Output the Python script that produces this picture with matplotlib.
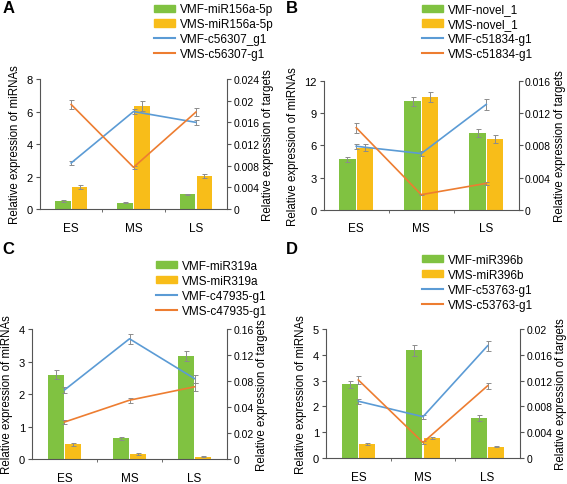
import numpy as np
import matplotlib
matplotlib.use('Agg')
import matplotlib.pyplot as plt
from matplotlib.patches import Patch
from matplotlib.lines import Line2D

plt.rcParams['font.family'] = ['Liberation Sans', 'DejaVu Sans']

stages = ['ES', 'MS', 'LS']

# panel A
a_names = ['VMF-miR156a-5p', 'VMS-miR156a-5p', 'VMF-c56307_g1', 'VMS-c56307-g1']
a_vmf_mir = [0.5, 0.4, 0.9]
a_vmf_mir_err = [0.04, 0.03, 0.05]
a_vms_mir = [1.35, 6.35, 2.05]
a_vms_mir_err = [0.1, 0.3, 0.12]
a_vmf_tgt = [0.0085, 0.018, 0.016]
a_vmf_tgt_err = [0.0003, 0.0005, 0.0005]
a_vms_tgt = [0.0193, 0.0077, 0.0179]
a_vms_tgt_err = [0.0009, 0.0003, 0.0008]
a_left_ticks = [0, 2, 4, 6, 8]
a_right_labels = ['0', '0.004', '0.008', '0.012', '0.016', '0.02', '0.024']

# panel B
b_names = ['VMF-novel_1', 'VMS-novel_1', 'VMF-c51834-g1', 'VMS-c51834-g1']
b_vmf_mir = [4.7, 10.1, 7.15]
b_vmf_mir_err = [0.25, 0.45, 0.35]
b_vms_mir = [5.8, 10.5, 6.6]
b_vms_mir_err = [0.3, 0.5, 0.35]
b_vmf_tgt = [0.0079, 0.0070, 0.0131]
b_vmf_tgt_err = [0.0003, 0.0003, 0.0007]
b_vms_tgt = [0.0102, 0.0019, 0.0033]
b_vms_tgt_err = [0.0006, 0.0001, 0.0002]
b_left_ticks = [0, 3, 6, 9, 12]
b_right_labels = ['0', '0.004', '0.008', '0.012', '0.016']

# panel C
c_names = ['VMF-miR319a', 'VMS-miR319a', 'VMF-c47935-g1', 'VMS-c47935-g1']
c_vmf_mir = [2.6, 0.64, 3.17]
c_vmf_mir_err = [0.13, 0.04, 0.15]
c_vms_mir = [0.45, 0.15, 0.07]
c_vms_mir_err = [0.04, 0.02, 0.01]
c_vmf_tgt = [0.085, 0.148, 0.099]
c_vmf_tgt_err = [0.004, 0.006, 0.005]
c_vms_tgt = [0.0455, 0.0724, 0.0889]
c_vms_tgt_err = [0.002, 0.003, 0.005]
c_left_ticks = [0, 1, 2, 3, 4]
c_right_labels = ['0', '0.02', '0.04', '0.08', '0.12', '0.16']

# panel D
d_names = ['VMF-miR396b', 'VMS-miR396b', 'VMF-c53763-g1', 'VMS-c53763-g1']
d_vmf_mir = [2.85, 4.17, 1.55]
d_vmf_mir_err = [0.15, 0.2, 0.1]
d_vms_mir = [0.55, 0.78, 0.44]
d_vms_mir_err = [0.04, 0.05, 0.03]
d_vmf_tgt = [0.0088, 0.0064, 0.0174]
d_vmf_tgt_err = [0.0004, 0.0003, 0.0008]
d_vms_tgt = [0.0121, 0.0024, 0.0112]
d_vms_tgt_err = [0.0006, 0.0002, 0.0005]
d_left_ticks = [0, 1, 2, 3, 4, 5]
d_right_labels = ['0', '0.004', '0.008', '0.012', '0.016', '0.02']

GREEN = '#80c241'
YELLOW = '#f8bd19'
BLUE = '#5b9bd5'
ORANGE = '#ed7d31'
ERR = '#8c8c8c'
SPINE = '#555555'
FS = 8.5


def panel(rect, letter, letter_pos, legend_pos, names,
          g, ge, y, ye, b, be, o, oe, lticks, rmax, rlabels):
    fig = plt.gcf()
    ax = fig.add_axes(rect)
    x = np.arange(len(stages))
    w = 0.25
    ek = dict(ecolor=ERR, elinewidth=0.7, capsize=1.8, capthick=0.7)
    ax.bar(x - 0.135, g, w, yerr=ge, color=GREEN, error_kw=ek, zorder=2)
    ax.bar(x + 0.135, y, w, yerr=ye, color=YELLOW, error_kw=ek, zorder=2)
    ax.set_xlim(-0.5, 2.5)
    ax.set_ylim(lticks[0], lticks[-1])
    ax.set_yticks(lticks)
    ax.set_xticks(x)
    ax.set_xticklabels(stages, fontsize=FS)
    ax.set_xticks([0.5, 1.5], minor=True)
    ax.tick_params(axis='x', which='major', length=0, pad=9)
    ax.tick_params(axis='x', which='minor', length=2.5, color=SPINE)
    ax.tick_params(axis='y', labelsize=8, length=3, color=SPINE, pad=2)
    ax.set_ylabel('Relative expression of miRNAs', fontsize=8.3, labelpad=4)
    ax.spines['top'].set_visible(False)
    ax.spines['right'].set_visible(False)
    for s in ['left', 'bottom']:
        ax.spines[s].set_color(SPINE)
        ax.spines[s].set_linewidth(0.8)

    ax2 = ax.twinx()
    ax2.errorbar(x, b, yerr=be, color=BLUE, lw=1.2, **ek)
    ax2.errorbar(x, o, yerr=oe, color=ORANGE, lw=1.2, **ek)
    ax2.set_ylim(0, rmax)
    ax2.set_yticks(np.linspace(0, rmax, len(rlabels)))
    ax2.set_yticklabels(rlabels)
    ax2.tick_params(axis='y', labelsize=7.5, length=3, color=SPINE, pad=1.5)
    ax2.set_ylabel('Relative expression of targets', fontsize=8.3, labelpad=2)
    ax2.spines['top'].set_visible(False)
    ax2.spines['left'].set_visible(False)
    ax2.spines['bottom'].set_visible(False)
    ax2.spines['right'].set_color(SPINE)
    ax2.spines['right'].set_linewidth(0.8)

    handles = [Patch(color=GREEN), Patch(color=YELLOW),
               Line2D([], [], color=BLUE, lw=1.5),
               Line2D([], [], color=ORANGE, lw=1.5)]
    fig.legend(handles, names, loc='upper left',
               bbox_to_anchor=legend_pos, frameon=False, fontsize=FS,
               borderpad=0, handlelength=1.8, handleheight=0.6,
               handletextpad=0.4, labelspacing=0.25)
    fig.text(letter_pos[0], letter_pos[1], letter, fontsize=12,
             fontweight='bold', va='top', ha='left')


fig = plt.figure(figsize=(5.67, 4.85), dpi=100)

panel([0.0705, 0.567, 0.330, 0.268], 'A', (0.005, 0.998),
      (148 / 567, 1.003), a_names,
      a_vmf_mir, a_vmf_mir_err, a_vms_mir, a_vms_mir_err,
      a_vmf_tgt, a_vmf_tgt_err, a_vms_tgt, a_vms_tgt_err,
      a_left_ticks, 0.024, a_right_labels)
panel([0.571, 0.565, 0.344, 0.266], 'B', (0.505, 0.998),
      (416 / 567, 1.003), b_names,
      b_vmf_mir, b_vmf_mir_err, b_vms_mir, b_vms_mir_err,
      b_vmf_tgt, b_vmf_tgt_err, b_vms_tgt, b_vms_tgt_err,
      b_left_ticks, 0.016, b_right_labels)
panel([0.0564, 0.0515, 0.344, 0.268], 'C', (0.005, 0.5),
      (150 / 567, 1 - 255 / 485), c_names,
      c_vmf_mir, c_vmf_mir_err, c_vms_mir, c_vms_mir_err,
      c_vmf_tgt, c_vmf_tgt_err, c_vms_tgt, c_vms_tgt_err,
      c_left_ticks, 0.16, c_right_labels)
panel([0.575, 0.0536, 0.342, 0.266], 'D', (0.505, 0.5),
      (416 / 567, 1 - 249 / 485), d_names,
      d_vmf_mir, d_vmf_mir_err, d_vms_mir, d_vms_mir_err,
      d_vmf_tgt, d_vmf_tgt_err, d_vms_tgt, d_vms_tgt_err,
      d_left_ticks, 0.02, d_right_labels)

plt.savefig('out.png', dpi=100)
